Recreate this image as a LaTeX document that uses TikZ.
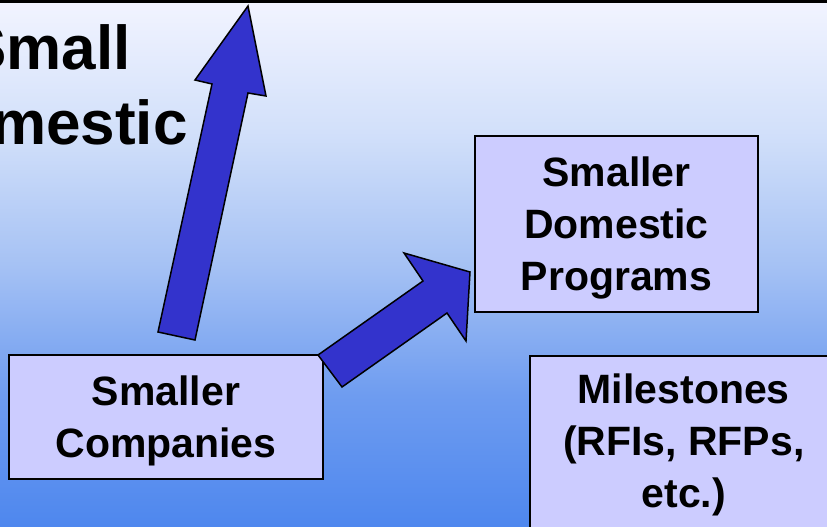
\documentclass[tikz,border=0pt]{standalone}
\usepackage{fontspec}
\setmainfont{Liberation Sans}
\definecolor{bgA}{HTML}{4E87EE}
\definecolor{bgB}{HTML}{6E9CF0}
\definecolor{bgC}{HTML}{A6C2F4}
\definecolor{bgD}{HTML}{D2E0FA}
\definecolor{bgE}{HTML}{F2F4FF}
\definecolor{boxfill}{HTML}{CCCCFF}
\definecolor{arrowfill}{HTML}{3333CC}
\pgfdeclareverticalshading{slidebg}{100bp}{color(0bp)=(bgA); color(25bp)=(bgA); color(37.5bp)=(bgB); color(50bp)=(bgC); color(62.5bp)=(bgD); color(75bp)=(bgE); color(100bp)=(bgE)}
\tikzset{
  box/.style={draw=black, line width=1.5pt, fill=boxfill, align=center, inner sep=0pt,
    font=\fontsize{41}{52}\selectfont\bfseries},
  blockarrow/.style={draw=black, line width=1.5pt, fill=arrowfill, line join=miter},
  bigtitle/.style={align=center, inner sep=0pt, font=\fontsize{62}{75}\selectfont\bfseries}
}
\begin{document}
\begin{tikzpicture}[x=1pt,y=-1pt]
\useasboundingbox (0,0) rectangle (827,527);
\clip (0,0) rectangle (827,527);
\shade[shading=slidebg] (0,0) rectangle (827,527);
\fill[black] (0,0) rectangle (827,3);
\node[bigtitle] (title) at (48,85) {Small\\Domestic};
\node[box, minimum width=314pt, minimum height=124pt] (comp) at (166,417) {\rule{0pt}{38pt}Smaller\\Companies};
\node[box, minimum width=283pt, minimum height=176pt] (prog) at (616.5,224) {\rule{0pt}{37.6pt}Smaller\\Domestic\\Programs};
\node[box, minimum width=308pt, minimum height=179pt, anchor=north west] (mile) at (529,355) {Milestones\\(RFIs, RFPs,\\etc.)};
\draw[blockarrow] (158,332) -- (212,84) -- (195,80) -- (248,6) -- (266,96) -- (248,93) -- (195,340) -- cycle;
\draw[blockarrow] (318,355) -- (423,281) -- (404,253) -- (470,272) -- (466,341) -- (447,313) -- (342,387) -- cycle;
\end{tikzpicture}
\end{document}
